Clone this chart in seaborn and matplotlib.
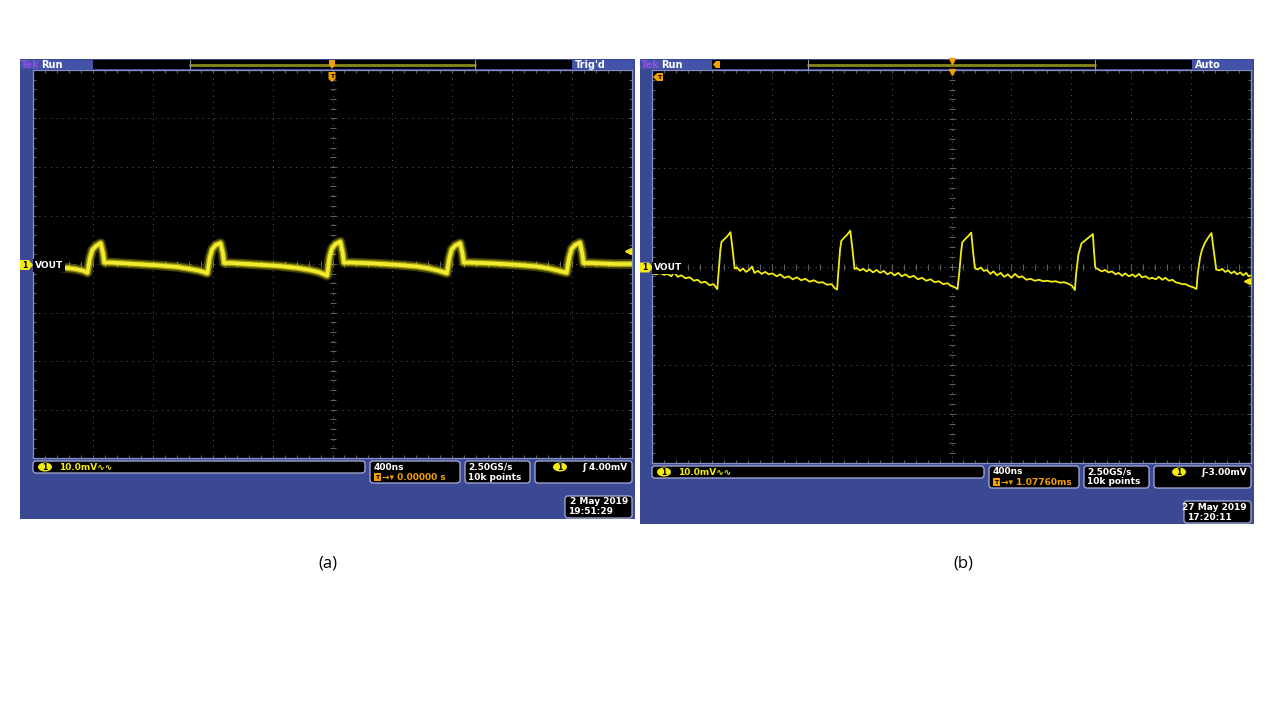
import numpy as np
import pandas as pd
import seaborn as sns
import matplotlib.pyplot as plt
from matplotlib.patches import Rectangle, FancyBboxPatch, Ellipse, Polygon

# waveform (a): time in divisions, VOUT in mV (10 mV/div)
a_time = [-5.00, -4.60, -4.30, -4.16, -4.09, -4.05, -4.01, -3.95, -3.87, -3.83, -3.81,
          -3.69, -3.29, -2.89, -2.59, -2.39, -2.22, -2.09, -2.05, -2.01, -1.95, -1.87,
          -1.83, -1.81, -1.69, -1.29, -0.89, -0.59, -0.39, -0.22, -0.09, -0.05, -0.01,
          0.05, 0.13, 0.17, 0.19, 0.31, 0.71, 1.11, 1.41, 1.61, 1.78, 1.91, 1.95, 1.99,
          2.05, 2.13, 2.17, 2.19, 2.31, 2.71, 3.11, 3.41, 3.61, 3.78, 3.91, 3.95, 3.99,
          4.05, 4.13, 4.17, 4.19, 4.31, 4.70, 5.00]
a_vout = [-0.2, -0.6, -1.0, -1.4, -1.8, 1.2, 2.9, 3.7, 4.3, 2.2, 0.3,
          0.3, 0.0, -0.3, -0.6, -1.0, -1.4, -1.9, 1.3, 3.0, 3.9, 4.3,
          2.2, 0.2, 0.2, -0.1, -0.4, -0.8, -1.2, -1.7, -2.4, 1.4, 3.2,
          4.1, 4.6, 2.3, 0.3, 0.3, 0.1, -0.2, -0.5, -0.9, -1.4, -1.9, 1.2, 3.0,
          3.8, 4.3, 2.2, 0.3, 0.3, 0.1, -0.2, -0.5, -0.9, -1.4, -1.8, 1.3, 3.1,
          3.9, 4.4, 2.2, 0.2, 0.2, 0.0, 0.0]

# waveform (b)
b_time = [-5.00, -4.93, -4.87, -4.80, -4.74, -4.68, -4.63, -4.57, -4.51, -4.44, -4.37,
          -4.30, -4.24, -4.18, -4.11, -4.04, -3.97, -3.93, -3.91,
          -3.89, -3.86, -3.84, -3.79, -3.74, -3.69, -3.65, -3.62,
          -3.58, -3.53, -3.48, -3.43, -3.38, -3.33, -3.29, -3.23, -3.17, -3.11, -3.05,
          -2.99, -2.92, -2.86, -2.79, -2.72, -2.65, -2.58, -2.51, -2.44, -2.37, -2.30,
          -2.22, -2.15, -2.08, -2.00, -1.95, -1.91,
          -1.89, -1.86, -1.84, -1.79, -1.74, -1.69, -1.65, -1.62,
          -1.58, -1.53, -1.47, -1.42, -1.37, -1.31, -1.25, -1.19, -1.13, -1.07, -1.01,
          -0.95, -0.89, -0.83, -0.77, -0.70, -0.63, -0.56, -0.49, -0.42, -0.35, -0.28,
          -0.21, -0.14, -0.07, -0.01, 0.05, 0.10,
          0.13, 0.16, 0.18, 0.23, 0.28, 0.33, 0.36, 0.39,
          0.44, 0.49, 0.54, 0.59, 0.65, 0.70, 0.76, 0.82, 0.88, 0.94, 1.00, 1.06, 1.12,
          1.18, 1.25, 1.32, 1.39, 1.46, 1.53, 1.60, 1.67, 1.74, 1.81, 1.88, 1.95, 2.01,
          2.06,
          2.08, 2.12, 2.17, 2.24, 2.30, 2.36, 2.38, 2.40,
          2.45, 2.51, 2.56, 2.62, 2.68, 2.74, 2.79, 2.85, 2.90, 2.96, 3.02, 3.07, 3.13,
          3.18, 3.24, 3.30, 3.35, 3.41, 3.46, 3.52, 3.57, 3.63, 3.69, 3.74, 3.80, 3.86,
          3.91, 3.97, 4.03, 4.09,
          4.11, 4.15, 4.18, 4.23, 4.28, 4.34, 4.38, 4.42,
          4.47, 4.52, 4.57, 4.62, 4.67, 4.72, 4.77, 4.82, 4.87, 4.92, 4.96, 5.00]
b_vout = [-1.4, -1.6, -1.3, -1.7, -1.5, -2.0, -1.2, -2.1, -1.8, -2.4, -2.2,
          -2.9, -2.7, -3.3, -3.1, -3.8, -3.6, -4.3, -4.6,
          -1.5, 3.2, 5.0, 5.6, 6.2, 7.0, 3.0, -0.4,
          -0.2, -0.9, -0.4, -1.1, -0.7, 0.0, -1.3, -0.9, -1.5, -1.1, -1.6,
          -1.4, -2.0, -1.6, -2.3, -2.0, -2.6, -2.2, -2.8, -2.5, -3.1, -2.8,
          -3.3, -3.2, -3.7, -3.6, -4.4, -4.7,
          -1.2, 3.5, 5.2, 5.9, 6.5, 7.3, 3.2, -0.5,
          -0.3, -0.8, -0.5, -1.0, -0.6, -1.2, -0.7, -1.3, -0.9, -1.6, -1.2,
          -1.8, -1.3, -2.0, -1.6, -2.2, -1.9, -2.6, -2.3, -2.9, -2.6, -3.2,
          -3.0, -3.6, -3.4, -3.9, -4.2, -4.6,
          -1.3, 3.0, 4.9, 5.6, 6.2, 6.9, 3.0, -0.3,
          -0.6, -0.2, -0.9, -0.7, -1.5, -1.0, -1.8, -1.3, -2.1, -1.6, -2.3, -1.5, -2.2,
          -2.0, -2.7, -2.5, -2.9, -2.7, -3.0, -2.9, -3.1, -3.0, -3.3, -3.2, -3.5, -3.9,
          -4.8,
          -1.5, 2.5, 4.7, 5.4, 6.0, 6.6, 3.0, -0.2,
          -0.6, -1.0, -0.7, -1.2, -1.0, -1.6, -1.3, -1.9, -1.4, -2.0, -1.6, -2.1, -1.5,
          -2.2, -2.0, -2.5, -2.3, -2.6, -2.1, -2.7, -2.3, -2.9, -2.7, -3.2, -3.4, -3.6,
          -3.6, -4.0, -4.2, -4.6,
          -1.5, 1.8, 3.3, 4.8, 5.8, 6.8, 3.0, -0.6,
          -0.8, -0.5, -1.1, -0.8, -1.4, -1.0, -1.6, -1.2, -1.8, -1.3, -2.0, -1.8]

panel_labels = ["(a)", "(b)"]
top_status = [("Run", "Trig'd"), ("Run", "Auto")]
scale_text = "10.0mV\u223f\u223f"
timebase = ["400ns", "400ns"]
trig_pos = ["0.00000 s", "1.07760ms"]
sample_rate = ["2.50GS/s", "2.50GS/s"]
record_len = ["10k points", "10k points"]
trig_level = ["\u0283 4.00mV", "\u0283-3.00mV"]
dates = [("2 May 2019", "19:51:29"), ("27 May 2019", "17:20:11")]

sns.set_theme(style="white")
plt.rcParams["font.family"] = ["DejaVu Sans"]

BLUE = "#3b4894"
LBLUE = "#4353a8"
EDGE = "#aab0d8"
YEL = "#f2ea10"
ORA = "#f0a000"
GRID = "#5e5e5e"

fig = plt.figure(figsize=(12.8, 7.2), dpi=100)
fig.patch.set_facecolor("white")

deco = fig.add_axes([0, 0, 1, 1], zorder=-1)
over = fig.add_axes([0, 0, 1, 1], zorder=10)
for a in (deco, over):
    a.set_xlim(0, 1280)
    a.set_ylim(720, 0)
    a.axis("off")


def rbox(ax, x, y, w, h, fc="black", ec=EDGE, r=3):
    ax.add_patch(FancyBboxPatch((x, y), w, h, boxstyle=f"round,pad=0,rounding_size={r}",
                                fc=fc, ec=ec, lw=0.9))


def badge(ax, x, y):
    ax.add_patch(Ellipse((x, y), 14, 9, fc=YEL, ec="none"))
    ax.text(x, y + 0.5, "1", color="black", fontsize=5.5, fontweight="bold", ha="center", va="center")


def t_icon(ax, x, y):
    ax.add_patch(Rectangle((x, y - 4), 7, 8, fc=ORA, ec="none"))
    ax.text(x + 3.5, y + 0.3, "T", color="black", fontsize=4.5, fontweight="bold", ha="center", va="center")


panels = [
    dict(frame=(20, 59, 615, 460), screen=(33, 70, 599, 388), bar=(93, 572, 190, 475), lab=(328, 563),
         time=a_time, vout=a_vout, trig_y=251),
    dict(frame=(640, 59, 614, 465), screen=(652, 70, 599, 393), bar=(712, 1192, 808, 1095), lab=(963, 563),
         time=b_time, vout=b_vout, trig_y=281),
]

for i, p in enumerate(panels):
    fx, fy, fw, fh = p["frame"]
    sx, sy, sw, sh = p["screen"]
    b0, b1, r0, r1 = p["bar"]

    # instrument frame and top bar
    deco.add_patch(Rectangle((fx, fy), fw, fh, fc=BLUE, ec="none"))
    deco.add_patch(Rectangle((fx, fy + 1), b0 - fx, 9, fc=LBLUE, ec="none"))
    deco.add_patch(Rectangle((b1, fy + 1), fx + fw - b1 - 2, 9, fc=LBLUE, ec="none"))
    deco.add_patch(Rectangle((b0, fy + 1), b1 - b0, 9, fc="black", ec="none"))
    deco.plot([r0, r1], [fy + 6, fy + 6], color="#8a8a1c", lw=2)
    deco.plot([r0, r0], [fy + 1, fy + 10], color="#9a9a9a", lw=0.8)
    deco.plot([r1, r1], [fy + 1, fy + 10], color="#9a9a9a", lw=0.8)
    deco.text(fx + 1, fy + 5.5, "Tek", color="#9050e0", fontsize=7, fontweight="bold", va="center")
    deco.text(fx + 21, fy + 5.5, top_status[i][0], color="white", fontsize=7, fontweight="bold", va="center")
    deco.text(b1 + 3, fy + 5.5, top_status[i][1], color="white", fontsize=7, fontweight="bold", va="center")

    # screen with graticule
    ax = fig.add_axes([sx / 1280, 1 - (sy + sh) / 720, sw / 1280, sh / 720], zorder=2)
    ax.set_facecolor("black")
    for xv in range(-4, 5):
        ax.axvline(xv, color=GRID, lw=0.7, ls=(0, (1, 5)))
    for yv in range(-30, 40, 10):
        ax.axhline(yv, color=GRID, lw=0.7, ls=(0, (1, 5)))
    xt = np.arange(-5, 5.01, 0.2)
    yt = np.arange(-40, 40.1, 2)
    ax.plot(xt, np.zeros_like(xt), ls="", marker="|", ms=4, color=GRID, mew=0.8)
    ax.plot(np.zeros_like(yt), yt, ls="", marker="_", ms=4, color=GRID, mew=0.8)
    ax.plot(xt, np.full_like(xt, -40), ls="", marker="|", ms=4, color=GRID, mew=0.8)
    ax.plot(xt, np.full_like(xt, 40), ls="", marker="|", ms=4, color=GRID, mew=0.8)
    ax.plot(np.full_like(yt, -5), yt, ls="", marker="_", ms=4, color=GRID, mew=0.8)
    ax.plot(np.full_like(yt, 5), yt, ls="", marker="_", ms=4, color=GRID, mew=0.8)

    df = pd.DataFrame({"t": p["time"], "v": p["vout"]})
    if i == 0:
        # persistence blur around the trace
        sns.lineplot(data=df, x="t", y="v", ax=ax, sort=False, estimator=None, color="#d6ce10", lw=7, alpha=0.3)
        sns.lineplot(data=df, x="t", y="v", ax=ax, sort=False, estimator=None, color="#e0d818", lw=4.5, alpha=0.6)
        sns.lineplot(data=df, x="t", y="v", ax=ax, sort=False, estimator=None, color="#f2ec30", lw=2.6)
    else:
        sns.lineplot(data=df, x="t", y="v", ax=ax, sort=False, estimator=None, color="#f2ec12", lw=1.3)
    ax.set_xlim(-5, 5)
    ax.set_ylim(-40, 40)
    ax.set_xticks([])
    ax.set_yticks([])
    ax.set_xlabel("")
    ax.set_ylabel("")
    for s in ax.spines.values():
        s.set_color("#8890c8")
        s.set_linewidth(0.9)

    # channel marker on the left
    cy = sy + sh / 2 + 1
    over.add_patch(Polygon([(fx, cy - 5), (fx + 9, cy - 5), (fx + 13, cy), (fx + 9, cy + 5), (fx, cy + 5)],
                           closed=True, fc=YEL, ec="none"))
    over.text(fx + 5, cy + 0.5, "1", color="black", fontsize=5.5, fontweight="bold", ha="center", va="center")
    over.text(sx + 2, cy + 0.5, "VOUT", color="white", fontsize=6.5, fontweight="bold", va="center",
              bbox=dict(fc="black", ec="none", pad=1.2))
    over.plot([sx + sw - 4], [p["trig_y"]], marker="<", ms=4, color=YEL, ls="")

    # status boxes
    ty = sy + sh + 3
    rbox(deco, sx, ty, 332, 12)
    badge(deco, sx + 12, ty + 6)
    deco.text(sx + 26, ty + 6.5, scale_text, color=YEL, fontsize=6.5, fontweight="bold", va="center")

    rbox(deco, sx + 337, ty, 90, 22)
    deco.text(sx + 341, ty + 6, timebase[i], color="white", fontsize=6.5, fontweight="bold", va="center")
    t_icon(deco, sx + 341, ty + 16)
    deco.text(sx + 349, ty + 16.5, "\u2192\u25be " + trig_pos[i], color=ORA, fontsize=6.5,
              fontweight="bold", va="center")

    rbox(deco, sx + 432, ty, 65, 22)
    deco.text(sx + 435, ty + 6, sample_rate[i], color="white", fontsize=6.5, fontweight="bold", va="center")
    deco.text(sx + 435, ty + 16, record_len[i], color="white", fontsize=6.5, fontweight="bold", va="center")

    rbox(deco, sx + 502, ty, sw - 502, 22)
    badge(deco, sx + 527, ty + 6)
    deco.text(sx + sw - 4, ty + 6.5, trig_level[i], color="white", fontsize=6.5, fontweight="bold",
              ha="right", va="center")

    dy = ty + 35
    rbox(deco, sx + 532, dy, sw - 532, 22)
    deco.text(sx + sw - 4, dy + 6, dates[i][0], color="white", fontsize=6.5, fontweight="bold",
              ha="right", va="center")
    deco.text(sx + 535, dy + 16, dates[i][1], color="white", fontsize=6.5, fontweight="bold", va="center")

    deco.text(p["lab"][0], p["lab"][1], panel_labels[i], color="black", fontsize=12,
              family=["Open Sans", "DejaVu Sans"], ha="center", va="center")

# trigger markers
over.add_patch(Polygon([(329, 60), (335, 60), (335, 65), (332, 69), (329, 65)], closed=True, fc=ORA, ec="none"))
over.add_patch(Polygon([(328.5, 72), (335.5, 72), (335.5, 79), (332, 82), (328.5, 79)], closed=True, fc=ORA, ec="none"))
over.text(332, 76.5, "T", color="black", fontsize=4.5, fontweight="bold", ha="center", va="center")
over.plot([952, 952], [61, 72], marker="v", ms=5, color=ORA, ls="")
over.add_patch(Polygon([(653, 77), (657, 73), (663, 73), (663, 81), (657, 81)], closed=True, fc=ORA, ec="none"))
over.text(659, 77.5, "T", color="black", fontsize=4.5, fontweight="bold", ha="center", va="center")
over.add_patch(Polygon([(713, 64.5), (716, 61), (720, 61), (720, 68), (716, 68)], closed=True, fc=ORA, ec="none"))

fig.savefig("out.png", dpi=100, facecolor="white")
